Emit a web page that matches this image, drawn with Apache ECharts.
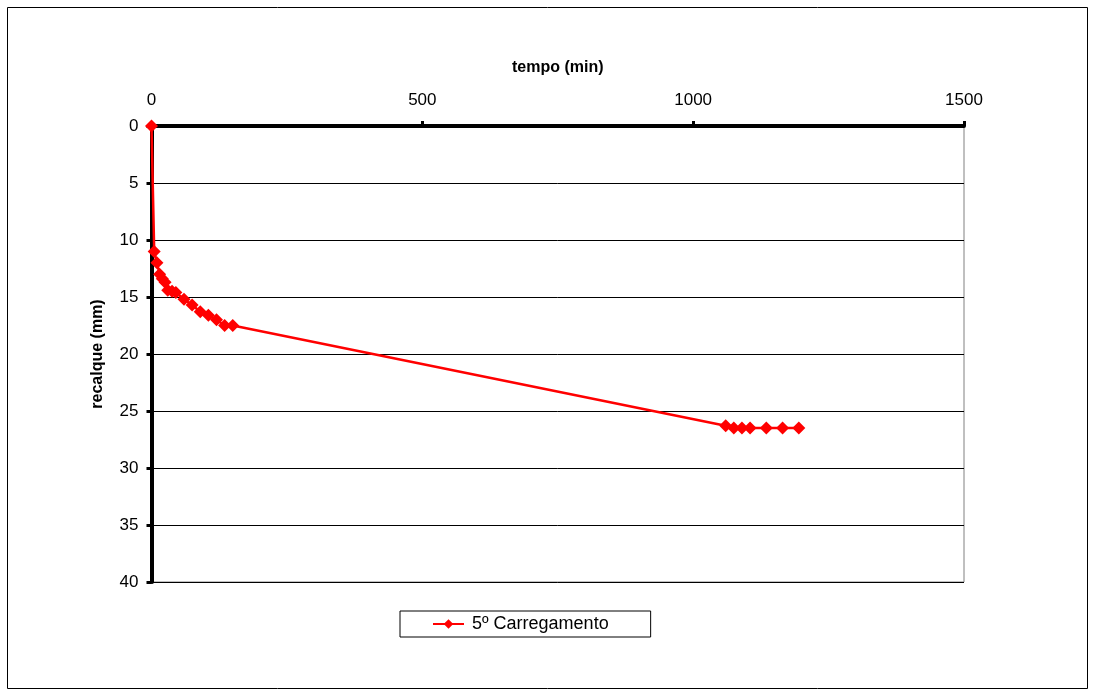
<!DOCTYPE html>
<html>
<head>
<meta charset="utf-8">
<script src="https://cdn.jsdelivr.net/npm/echarts@6/dist/echarts.min.js"></script>
<style>html,body{margin:0;padding:0;background:#fff;}#c{width:1094px;height:691px;}</style>
</head>
<body>
<div id="c"></div>
<script>
const seriesName = '5º Carregamento';
const tempo = [0, 5, 10, 15, 20, 25, 30, 38, 45, 60, 75, 90, 105, 120, 135, 150, 1060, 1075, 1090, 1105, 1135, 1165, 1195];
const recalque = [0, 11.0, 12.0, 13.0, 13.4, 13.7, 14.4, 14.5, 14.6, 15.2, 15.7, 16.3, 16.6, 17.0, 17.5, 17.5, 26.3, 26.5, 26.5, 26.5, 26.5, 26.5, 26.5];
const xTicks = [0, 500, 1000, 1500];
const yTicks = [0, 5, 10, 15, 20, 25, 30, 35, 40];

const data = tempo.map((t, i) => [t, recalque[i]]);
const font = 'Liberation Sans, Arial, sans-serif';
const chart = echarts.init(document.getElementById('c'), null, {renderer: 'canvas'});
chart.setOption({
  animation: false,
  backgroundColor: '#fff',
  graphic: [{
    type: 'rect', shape: {x: 7.5, y: 7.5, width: 1080, height: 681},
    style: {fill: 'none', stroke: '#000', lineWidth: 1}, z: -1
  }],
  grid: {left: 151.5, top: 126, right: 130, bottom: 109, show: true, borderColor: '#808080', borderWidth: 1, backgroundColor: 'transparent'},
  xAxis: {
    type: 'value', position: 'top', min: xTicks[0], max: xTicks[xTicks.length - 1], interval: 500,
    name: 'tempo (min)', nameLocation: 'middle', nameGap: 50,
    nameTextStyle: {fontFamily: font, fontWeight: 'bold', fontSize: 16, color: '#000'},
    axisLine: {show: true, onZero: false, lineStyle: {color: '#000', width: 4}},
    axisTick: {show: true, inside: false, length: 5, lineStyle: {color: '#000', width: 3}},
    axisLabel: {margin: 17, fontFamily: font, fontSize: 17, color: '#000', formatter: v => String(v)},
    splitLine: {show: false}
  },
  yAxis: {
    type: 'value', inverse: true, min: yTicks[0], max: yTicks[yTicks.length - 1], interval: 5,
    name: 'recalque (mm)', nameLocation: 'middle', nameGap: 46,
    nameTextStyle: {fontFamily: font, fontWeight: 'bold', fontSize: 16, color: '#000'},
    axisLine: {show: true, onZero: false, lineStyle: {color: '#000', width: 4}},
    axisTick: {show: true, inside: false, length: 5, lineStyle: {color: '#000', width: 3}},
    axisLabel: {margin: 13, fontFamily: font, fontSize: 17, color: '#000', formatter: v => String(v)},
    splitLine: {show: true, lineStyle: {color: '#000', width: 1}}
  },
  legend: {
    left: 400, top: 611, data: [seriesName],
    borderColor: '#000', borderWidth: 1, padding: [4, 42, 4, 32],
    itemWidth: 31, itemHeight: 12, itemGap: 4,
    textStyle: {fontFamily: font, fontSize: 18, color: '#000', padding: [0, 0, 0, 3]}
  },
  series: [{
    name: seriesName, type: 'line', data: data,
    symbol: 'diamond', symbolSize: 13,
    lineStyle: {color: '#ff0000', width: 2.5},
    itemStyle: {color: '#ff0000'},
    clip: false
  }]
});
</script>
</body>
</html>
